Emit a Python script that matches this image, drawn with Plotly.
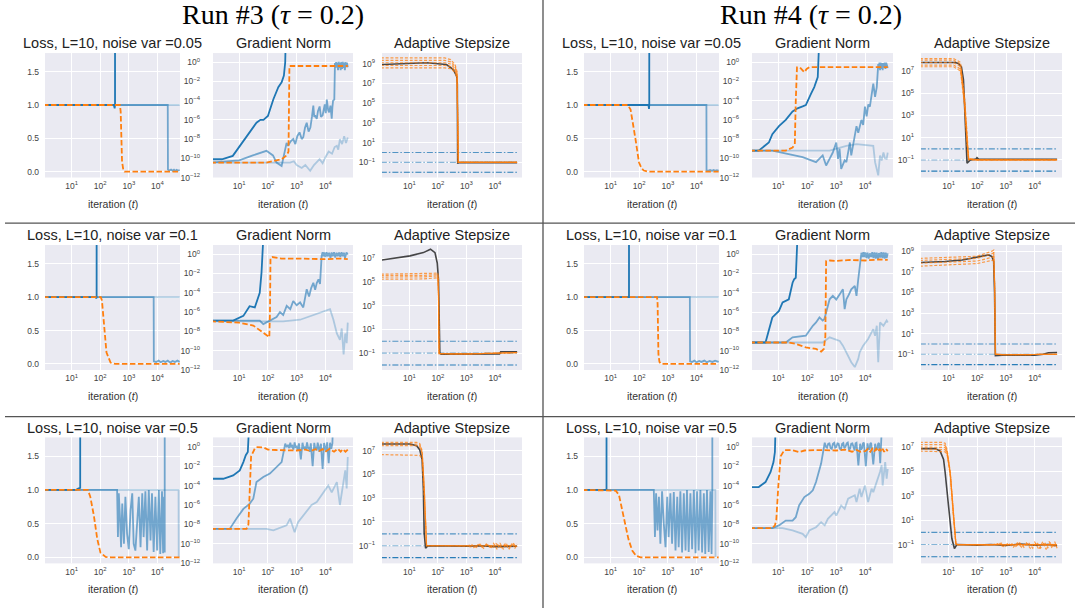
import plotly.graph_objects as go

W, H = 1075, 613
T_END = 60000

# ======================= DATA: (iteration t, value) =======================
# ---------- Run #3, noise var 0.05 ----------
r3a_loss_dark = [(1, 1.0), (300, 1.0), (320, 0.95), (330, 1.0), (340, 100)]
r3a_loss_mid = [(1, 1.0), (23000, 1.0), (23400, 0.03), (26000, 0.015), (30000, 0.03), (34000, 0.012),
                (38000, 0.028), (42000, 0.01), (47000, 0.025), (52000, 0.015), (60000, 0.02)]
r3a_loss_light = [(1, 1.0), (60000, 1.0)]
r3a_loss_orng = [(1, 1.0), (490, 1.0), (520, 0.9), (545, 0.5), (580, 0.15), (640, 0.03), (708, 0.0), (60000, 0.0)]

r3a_grad_dark = [(1, 8e-11), (2.5, 8e-11), (6, 1.8e-10), (10.5, 2e-9), (23, 5e-8), (40, 5e-7), (55, 1e-6), (70, 1e-6),
                 (100, 2.5e-6), (155, 1.4e-4), (230, 2.5e-3), (300, 8e-3), (360, 4e-2), (400, 1.0), (420, 1e3)]
r3a_grad_mid = [(1, 3.6e-11), (10, 6e-11), (30, 2e-10), (89, 6e-10), (150, 2e-10), (200, 3.6e-11), (300, 1.6e-11),
                (447, 4e-9), (500, 2e-9), (620, 6e-9), (760, 1e-8), (900, 3e-9), (1050, 2e-8), (1260, 5e-8),
                (1500, 1e-8), (1700, 1.6e-8), (1950, 1.5e-7), (2240, 5e-7), (2600, 6e-8), (3000, 1.6e-7),
                (3400, 2e-6), (3800, 3e-5), (4100, 2e-6), (4400, 3e-6), (5000, 1.3e-6), (5500, 8e-6),
                (6300, 2.5e-5), (7000, 2e-6), (8000, 3e-6), (8800, 1.5e-5), (9500, 4e-5), (10300, 5e-6),
                (11200, 1.3e-4), (12500, 1e-5), (13500, 6e-6), (15000, 3e-5), (16600, 1.3e-6), (17500, 2e-5),
                (18500, 1e-4), (20400, 1.3e-4), (21500, 0.8), (22500, 0.25), (23500, 1.0), (24500, 0.3),
                (26000, 0.9), (27500, 0.15), (29000, 1.1), (30500, 0.25), (32000, 0.9), (34000, 0.15),
                (36000, 1.0), (38000, 0.2), (40000, 1.1), (42500, 0.25), (45000, 0.9), (47500, 0.15),
                (50000, 1.0), (53000, 0.3), (56000, 0.9), (60000, 0.3)]
r3a_grad_light = [(1, 3.6e-11), (590, 3.6e-11), (800, 5e-11), (1000, 2e-11), (1500, 1e-11), (2000, 2e-11),
                  (2950, 5e-12), (4000, 2e-11), (6300, 8e-11), (8000, 3e-11), (10000, 1.3e-10), (13000, 5e-10),
                  (17000, 3e-10), (21000, 1.5e-9), (25000, 2e-9), (28000, 8e-10), (32000, 1e-8), (38000, 3e-9),
                  (45000, 2e-8), (52000, 4e-9), (60000, 1.5e-8)]
r3a_grad_orng = [(1, 3.6e-11), (89, 3.6e-11), (300, 8e-11), (447, 2e-10), (520, 5e-10), (540, 0.4), (560, 0.4),
                 (5000, 0.4), (20000, 0.38), (60000, 0.4)]

r3a_step_black = [(1, 8e8), (40, 1.2e9), (200, 8e8), (347, 2.5e8), (457, 5e7), (480, 1e7), (495, 0.075),
                  (520, 0.095), (60000, 0.095)]
r3a_step_o1 = [(1, 3.7e9), (174, 3.7e9), (280, 2.5e9), (400, 8e8), (470, 1.5e8), (500, 1e3), (520, 0.1), (60000, 0.1)]
r3a_step_o2 = [(1, 2.1e9), (174, 2.1e9), (280, 1.5e9), (400, 5e8), (470, 1e8), (500, 1e3), (520, 0.1), (60000, 0.1)]
r3a_step_o3 = [(1, 1.2e9), (174, 1.2e9), (280, 9e8), (400, 3e8), (470, 7e7), (500, 1e3), (520, 0.1), (60000, 0.1)]
r3a_step_o4 = [(1, 6.3e8), (174, 6.3e8), (280, 5e8), (400, 2e8), (470, 5e7), (500, 1e3), (520, 0.1), (60000, 0.1)]
r3a_step_o5 = [(1, 3.7e8), (174, 3.7e8), (280, 3e8), (400, 1.3e8), (470, 3e7), (500, 1e3), (520, 0.1), (60000, 0.1)]

# ---------- Run #3, noise var 0.1 ----------
r3b_loss_dark = [(1, 1.0), (70, 1.0), (73, 0.98), (75, 1.0), (77, 100)]
r3b_loss_mid = [(1, 1.0), (7400, 1.0), (7500, 0.04), (9000, 0.03), (11000, 0.05), (13000, 0.025), (16000, 0.045),
                (19000, 0.03), (23000, 0.05), (28000, 0.02), (34000, 0.045), (41000, 0.03), (50000, 0.05),
                (60000, 0.03)]
r3b_loss_light = [(1, 1.0), (60000, 1.0)]
r3b_loss_orng = [(1, 1.0), (105, 1.0), (115, 0.95), (135, 0.6), (166, 0.17), (230, 0.02), (340, 0.0), (60000, 0.0)]

r3b_grad_dark = [(1, 1.3e-7), (6.2, 1.3e-7), (14, 4e-7), (23, 4e-6), (35, 3e-6), (52, 1e-4), (60, 1.3e-2), (70, 100)]
r3b_grad_mid = [(1, 1.3e-7), (52, 1.3e-7), (69, 5.6e-8), (117, 1.3e-7), (200, 3e-7), (263, 1e-6), (340, 5e-7),
                (450, 4.4e-6), (600, 2e-6), (760, 1.4e-5), (1000, 5e-6), (1320, 1e-5), (1700, 3e-6), (2000, 4e-5),
                (2240, 2.3e-4), (2700, 4e-5), (3200, 3e-4), (3800, 1.1e-3), (4400, 2e-4), (5000, 1e-3),
                (5750, 2.5e-3), (6500, 8e-4), (7400, 0.7), (8000, 1.6), (8500, 0.6), (9200, 1.5), (10000, 0.5),
                (11000, 1.6), (12000, 0.6), (13500, 1.4), (15000, 0.4), (16500, 1.5), (18000, 0.6), (20000, 1.6),
                (22000, 0.45), (24500, 1.4), (27000, 0.6), (30000, 1.5), (33000, 0.5), (36500, 1.6), (40000, 0.6),
                (44000, 1.4), (48000, 0.4), (54000, 1.5), (60000, 0.9)]
r3b_grad_light = [(1, 1.1e-7), (340, 1.1e-7), (1320, 1.6e-7), (6450, 8e-7), (14500, 2e-6), (19000, 1.6e-7),
                  (25000, 6e-9), (32000, 1.3e-9), (37000, 2e-8), (43000, 4e-11), (49000, 6e-9), (55000, 6e-10),
                  (60000, 8e-8)]
r3b_grad_orng = [(1, 1.1e-7), (10, 8e-8), (31, 4e-8), (69, 8e-9), (112, 2.5e-9), (118, 1e-6), (123, 0.4), (140, 0.5),
                 (300, 0.35), (1000, 0.35), (3000, 0.33), (10000, 0.3), (30000, 0.35), (60000, 0.3)]

r3b_step_black = [(1, 7e6), (10.5, 1.6e7), (31, 3e7), (55, 5.8e7), (79, 3e7), (95, 4e6), (105, 1.5e5), (117, 0.1),
                  (130, 0.083), (14500, 0.085), (16000, 0.13), (60000, 0.13)]
r3b_step_o1 = [(1, 4.5e5), (30, 4.7e5), (89, 5.5e5), (100, 6e5), (105, 1e4), (110, 0.09), (1000, 0.085), (10000, 0.1), (60000, 0.11)]
r3b_step_o2 = [(1, 3.5e5), (30, 3.6e5), (89, 4.2e5), (100, 4.5e5), (105, 1e4), (110, 0.09), (1000, 0.085), (10000, 0.1), (60000, 0.11)]
r3b_step_o3 = [(1, 2.6e5), (30, 2.7e5), (89, 3.2e5), (100, 3.5e5), (105, 1e4), (110, 0.09), (1000, 0.085), (10000, 0.1), (60000, 0.11)]
r3b_step_o4 = [(1, 1.7e5), (30, 1.8e5), (89, 2.2e5), (100, 2.5e5), (105, 1e4), (110, 0.09), (1000, 0.085), (10000, 0.1), (60000, 0.11)]

# ---------- Run #3, noise var 0.5 ----------
r3c_loss_dark = [(1, 1.0), (14, 1.0), (17, 1.02), (20, 1.03), (21, 100)]
r3c_loss_mid = [(1, 1.0), (390, 1.0), (417, 0.3), (447, 0.95), (490, 0.6), (537, 0.15), (590, 0.8), (676, 0.2),
                (760, 0.9), (870, 0.35), (1000, 0.12), (1150, 0.7), (1320, 0.95), (1480, 0.2), (1700, 0.1),
                (1950, 0.6), (2240, 0.9), (2570, 0.15), (2950, 0.95), (3300, 0.3), (3800, 0.98), (4370, 0.1),
                (5000, 1.0), (5750, 0.25), (6460, 0.95), (7400, 0.08), (8500, 0.9), (9800, 0.1), (11200, 1.0),
                (12600, 0.05), (14500, 0.98), (15800, 0.06), (17000, 0.9), (18000, 0.07), (18200, 100)]
r3c_loss_light = [(1, 1.0), (55000, 1.0), (55500, 0.0)]
r3c_loss_orng = [(1, 1.0), (37, 1.0), (45, 0.9), (60, 0.62), (79, 0.27), (102, 0.07), (155, 0.005), (230, 0.0), (60000, 0.0)]

r3c_grad_dark = [(1, 5e-4), (2.8, 5e-4), (6.2, 1.1e-3), (10.5, 3.6e-3), (14, 2.6e-2), (17, 0.13), (20, 0.28), (22, 100)]
r3c_grad_mid = [(1, 3.5e-9), (4.7, 3.5e-9), (8.1, 4e-8), (14, 4e-7), (23, 1.3e-6), (31, 4.4e-6), (40, 2.3e-4),
                (69, 7.6e-4), (117, 1.7e-3), (200, 8e-3), (300, 2.6e-2), (400, 2.0), (450, 0.9), (500, 1.5),
                (550, 0.7), (600, 2.5), (650, 1.0), (700, 1.2), (770, 0.5), (850, 2.8), (920, 0.8), (1000, 1.0),
                (1100, 0.4), (1200, 2.2), (1400, 0.05), (1600, 2.5), (1750, 0.6), (1900, 1.0), (2100, 0.5),
                (2300, 2.8), (2500, 0.7), (2700, 0.8), (2900, 0.3), (3100, 2.2), (3600, 0.01), (4100, 2.5),
                (4400, 0.6), (4700, 1.0), (5000, 0.4), (5400, 2.6), (6200, 0.3), (7000, 2.0), (8000, 0.005),
                (9000, 2.4), (10000, 0.9), (10700, 0.3), (11500, 2.8), (13000, 0.02), (14500, 2.5), (16000, 0.6),
                (17500, 2.2), (18200, 100)]
r3c_grad_light = [(1, 3.5e-9), (89, 3.5e-9), (155, 2.5e-9), (447, 8e-9), (590, 4e-8), (850, 1.6e-9), (1120, 1.7e-8),
                  (1700, 8e-8), (3300, 1e-6), (5000, 2e-6), (7400, 1e-5), (12600, 1e-4), (16600, 2e-5),
                  (25000, 2.3e-4), (32000, 1e-6), (43000, 2.3e-4), (49000, 3.6e-3), (55000, 5e-5), (60000, 8.7e-2)]
r3c_grad_orng = [(1, 3.5e-9), (18, 3.5e-9), (21, 1e-8), (23, 3e-6), (26, 0.1), (35, 0.63), (40, 0.9), (69, 0.85),
                 (100, 0.5), (200, 0.45), (1000, 0.4), (2000, 0.5), (3000, 0.35), (4500, 0.55), (6000, 0.35),
                 (8000, 0.55), (10000, 0.3), (14000, 0.6), (20000, 0.3), (27000, 0.6), (34000, 0.3), (40000, 0.55),
                 (50000, 0.3), (60000, 0.5)]

r3c_step_black = [(1, 3.6e7), (10.5, 3.6e7), (18, 2.6e7), (23, 1.2e7), (28, 1.8e6), (31, 5.5e3), (33, 1.3),
                  (37, 0.063), (45, 0.1), (200, 0.095), (1000, 0.09), (3000, 0.1), (10000, 0.085), (60000, 0.09)]
r3c_step_o1 = [(1, 5e7), (18, 5e7), (23, 4e7), (28, 1e7), (33, 1e4), (37, 10), (40, 0.1), (200, 0.1), (1000, 0.09),
               (1500, 0.13), (2200, 0.07), (3000, 0.14), (4000, 0.06), (5500, 0.15), (7000, 0.06), (9000, 0.16),
               (12000, 0.05), (15000, 0.17), (20000, 0.05), (25000, 0.16), (32000, 0.05), (40000, 0.17),
               (50000, 0.06), (60000, 0.14)]
r3c_step_o2 = [(1, 3.6e7), (18, 3.6e7), (23, 3e7), (28, 8e6), (33, 1e4), (37, 10), (40, 0.1), (1000, 0.1),
               (1800, 0.07), (2600, 0.13), (3500, 0.08), (5000, 0.14), (8000, 0.06), (11000, 0.15), (17000, 0.07),
               (23000, 0.15), (30000, 0.06), (45000, 0.15), (60000, 0.08)]
r3c_step_o3 = [(1, 2.6e7), (18, 2.6e7), (23, 2e7), (28, 6e6), (33, 1e4), (37, 10), (40, 0.1), (60000, 0.1)]
r3c_step_o4 = [(1, 4.6e6), (18, 4.6e6), (23, 4e6), (28, 2e6), (33, 5e3), (37, 10), (40, 0.1), (60000, 0.1)]

# ---------- Run #4, noise var 0.05 ----------
r4a_loss_dark = [(1, 1.0), (210, 1.0), (220, 0.94), (225, 1.0), (230, 100)]
r4a_loss_mid = [(1, 1.0), (22400, 1.0), (22600, 0.02), (26000, 0.012), (30000, 0.025), (35000, 0.01),
                (40000, 0.022), (46000, 0.01), (52000, 0.02), (60000, 0.015)]
r4a_loss_light = [(1, 1.0), (60000, 1.0)]
r4a_loss_orng = [(1, 1.0), (40, 1.0), (50, 0.93), (60, 0.75), (74, 0.49), (98, 0.14), (120, 0.05), (145, 0.015),
                 (200, 0.0), (60000, 0.0)]

r4a_grad_dark = [(1, 6.3e-10), (2.1, 6.3e-10), (4.7, 4.4e-9), (6.2, 3.2e-8), (10.5, 2.2e-7), (18, 1e-6), (31, 7.4e-6),
                 (46, 1.6e-5), (69, 2.5e-5), (89, 3.5e-5), (135, 5.5e-4), (174, 2.6e-3), (230, 2.8e-2), (263, 1e3)]
r4a_grad_mid = [(1, 6.3e-10), (6.2, 6.3e-10), (69, 1.3e-10), (200, 4e-11), (340, 2e-10), (447, 1.8e-11),
                (600, 1e-10), (760, 4e-10), (1000, 4.4e-9), (1150, 8.7e-11), (1300, 1e-9), (1480, 8e-12),
                (1950, 6e-11), (2240, 4e-11), (2600, 5e-10), (2950, 4.4e-9), (3300, 2e-10), (3800, 2e-9),
                (4370, 2e-8), (5000, 2.2e-7), (5750, 4.6e-8), (6500, 3e-7), (7400, 1e-6), (8500, 3e-7),
                (9800, 2.4e-5), (11200, 2.3e-6), (12800, 4e-5), (14500, 2.4e-5), (16600, 2.5e-4), (19000, 5.8e-3),
                (21900, 2.5e-4), (25100, 2.6e-3), (28200, 0.63), (29500, 0.2), (31000, 0.9), (32500, 0.15),
                (34000, 0.9), (36000, 0.2), (38000, 0.8), (40000, 0.15), (42000, 0.8), (44500, 0.3), (47000, 0.9),
                (50000, 0.2), (53000, 0.9), (56500, 0.3), (60000, 0.25)]
r4a_grad_light = [(1, 6.3e-10), (590, 6.3e-10), (2240, 2e-9), (5000, 3e-9), (19000, 2e-9), (21900, 4e-11),
                  (28200, 1.7e-12), (32400, 1.9e-10), (37000, 6e-11), (42700, 4e-10), (48000, 1e-10),
                  (55000, 8.7e-11), (60000, 4e-10)]
r4a_grad_orng = [(1, 6.3e-10), (18, 6.3e-10), (31, 1.3e-9), (37, 3e-9), (40, 1e-4), (44, 0.29), (55, 0.3), (70, 0.12),
                 (79, 0.09), (95, 0.2), (117, 0.3), (1000, 0.3), (10000, 0.3), (60000, 0.3)]

r4a_step_black = [(1, 5.8e7), (17, 5.8e7), (22, 4.8e7), (28, 2.4e7), (33, 1.6e6), (38, 63), (44, 0.05), (57, 0.1),
                  (90, 0.12), (98, 0.16), (110, 0.12), (60000, 0.115)]
r4a_step_o1 = [(1, 1.3e8), (15, 1.3e8), (26, 6e7), (36, 5e4), (45, 10), (50, 0.14), (100, 0.1), (60000, 0.1)]
r4a_step_o2 = [(1, 9.3e7), (15, 9.3e7), (26, 4e7), (36, 3e4), (45, 5), (50, 0.13), (100, 0.1), (60000, 0.1)]
r4a_step_o3 = [(1, 5.8e7), (15, 5.8e7), (26, 2.5e7), (36, 2e4), (45, 3), (50, 0.12), (100, 0.1), (60000, 0.1)]
r4a_step_o4 = [(1, 3.4e7), (15, 3.4e7), (26, 1.5e7), (36, 1e4), (45, 2), (50, 0.11), (100, 0.1), (60000, 0.1)]
r4a_step_o5 = [(1, 2.4e7), (15, 2.4e7), (26, 1e7), (36, 8e3), (45, 1), (50, 0.1), (100, 0.1), (60000, 0.1)]

# ---------- Run #4, noise var 0.1 ----------
r4b_loss_dark = [(1, 1.0), (44, 1.0), (45, 100)]
r4b_loss_mid = [(1, 1.0), (5900, 1.0), (6000, 0.04), (7000, 0.03), (8500, 0.05), (10000, 0.025), (12500, 0.045),
                (15000, 0.03), (19000, 0.05), (23000, 0.025), (29000, 0.045), (36000, 0.03), (45000, 0.05),
                (60000, 0.03)]
r4b_loss_light = [(1, 1.0), (60000, 1.0)]
r4b_loss_orng = [(1, 1.0), (420, 1.0), (440, 0.9), (450, 0.5), (470, 0.15), (510, 0.03), (580, 0.0), (60000, 0.0)]

r4b_grad_dark = [(1, 7e-10), (3.6, 7e-10), (6.2, 2.8e-7), (10.5, 1.3e-6), (14, 1e-5), (18, 1.4e-5), (23, 2.1e-5),
                 (31, 1.1e-3), (35, 2.5e-3), (40, 3.6e-3), (46, 100)]
r4b_grad_mid = [(1, 7e-10), (18, 7e-10), (31, 2.4e-9), (89, 3.5e-9), (155, 3.8e-8), (200, 8.3e-8), (263, 2.8e-7),
                (340, 1.3e-7), (390, 1.9e-7), (468, 2e-6), (590, 2.1e-5), (760, 4.7e-5), (1000, 2e-5), (1320, 7e-5),
                (1700, 2.3e-4), (1950, 2e-6), (2240, 2.1e-5), (2700, 6e-5), (3300, 2.3e-4), (4370, 5e-4),
                (5000, 4.7e-5), (5750, 2.5e-3), (6450, 2.6e-2), (7400, 1.4), (8000, 0.5), (8700, 1.6), (9300, 0.5),
                (10000, 1.5), (11000, 0.4), (12000, 1.4), (13200, 0.35), (14500, 1.2), (16000, 0.5), (17500, 1.6),
                (19200, 0.4), (21000, 1.5), (23000, 0.35), (25000, 1.4), (27500, 0.3), (30000, 1.3), (33000, 0.45),
                (36000, 1.6), (39500, 0.4), (43000, 1.5), (47000, 0.35), (51000, 1.4), (55000, 0.4), (60000, 1.2)]
r4b_grad_light = [(1, 7e-10), (340, 7e-10), (590, 2.4e-9), (1320, 1e-9), (1700, 3.3e-10), (2570, 3e-11),
                  (3300, 6.3e-12), (4370, 2e-12), (5750, 1.4e-11), (6450, 6.8e-11), (8500, 3.3e-10), (12600, 1.6e-9),
                  (19000, 1.7e-8), (21900, 3.5e-9), (25100, 3.8e-8), (28200, 6.3e-12), (32400, 8.3e-8),
                  (42700, 3.8e-8), (55000, 1.3e-7), (60000, 8.3e-8)]
r4b_grad_orng = [(1, 7e-10), (23, 7e-10), (40, 5e-10), (89, 2.2e-10), (200, 1.5e-10), (300, 8e-11), (372, 1.5e-10),
                 (420, 3e-9), (447, 0.19), (600, 0.22), (1000, 0.2), (3000, 0.25), (10000, 0.22), (30000, 0.28),
                 (60000, 0.25)]

r4b_step_black = [(1, 8e7), (7.6, 1e8), (30, 1.4e8), (98, 2.6e8), (250, 4.3e8), (324, 3e8), (372, 1e8), (400, 1e5),
                  (427, 0.072), (1000, 0.085), (10000, 0.08), (20000, 0.1), (30000, 0.14), (60000, 0.15)]
r4b_step_o1 = [(1, 2e8), (98, 3.2e8), (324, 1e9), (372, 1.26e9), (400, 1e6), (427, 0.1), (1000, 0.09), (60000, 0.1)]
r4b_step_o2 = [(1, 1.26e8), (98, 2e8), (324, 5.6e8), (372, 7e8), (400, 1e6), (427, 0.1), (1000, 0.09), (60000, 0.1)]
r4b_step_o3 = [(1, 7e7), (98, 1.1e8), (324, 2.5e8), (372, 3e8), (400, 1e6), (427, 0.1), (1000, 0.09), (60000, 0.1)]
r4b_step_o4 = [(1, 3.5e7), (98, 6.3e7), (324, 1.26e8), (372, 1.5e8), (400, 1e6), (427, 0.1), (1000, 0.09), (60000, 0.1)]

# ---------- Run #4, noise var 0.5 ----------
r4c_loss_dark = [(1, 1.0), (7.2, 1.0), (7.4, 100)]
r4c_loss_mid = [(1, 1.0), (324, 1.0), (355, 0.3), (390, 0.95), (437, 0.4), (490, 0.9), (550, 0.2), (630, 0.98),
                (724, 0.5), (832, 0.15), (955, 0.9), (1070, 0.3), (1230, 0.95), (1410, 0.2), (1620, 0.97),
                (1860, 0.1), (2140, 0.9), (2400, 0.15), (2750, 0.98), (3160, 0.07), (3630, 0.95), (4170, 0.1),
                (4680, 1.0), (5370, 0.08), (6170, 0.95), (7080, 0.12), (8130, 1.0), (9330, 0.06), (10500, 0.98),
                (12000, 0.1), (13800, 1.0), (15800, 0.07), (18200, 0.95), (20400, 0.05), (23400, 1.0),
                (26900, 0.08), (30900, 0.98), (33900, 0.05), (36000, 0.9), (37000, 100)]
r4c_loss_light = [(1, 1.0), (46000, 1.0), (46500, 0.0)]
r4c_loss_orng = [(1, 1.0), (13, 1.0), (15, 0.99), (19.5, 0.93), (26, 0.7), (32, 0.5), (42, 0.27), (57, 0.1),
                 (79, 0.02), (112, 0.0), (60000, 0.0)]

r4c_grad_dark = [(1, 7e-5), (2.1, 7e-5), (3.6, 2.3e-4), (5.4, 2.5e-3), (6.8, 2.6e-2), (7.6, 0.28), (8, 100)]
r4c_grad_mid = [(1, 4.2e-9), (6.2, 4.2e-9), (10.5, 8e-9), (18, 2.5e-8), (31, 2.5e-8), (40, 5.6e-8), (52, 9e-7),
                (79, 6.5e-6), (117, 1.4e-5), (155, 3.2e-5), (200, 2.3e-4), (300, 1.8e-2), (400, 2.5), (440, 1.0),
                (480, 0.8), (530, 2.0), (580, 2.2), (640, 0.7), (700, 0.6), (770, 2.0), (850, 2.5), (920, 0.8),
                (1000, 0.9), (1100, 2.2), (1200, 2.0), (1320, 0.6), (1450, 0.5), (1600, 2.0), (1750, 2.4),
                (1900, 0.7), (2100, 1.0), (2300, 2.2), (2500, 2.6), (2750, 0.5), (3000, 0.6), (3300, 2.0),
                (3600, 2.2), (3950, 0.6), (4300, 0.4), (4650, 2.2), (5000, 2.5), (5800, 0.012), (6700, 2.0),
                (7200, 0.5), (7800, 0.7), (8400, 2.2), (9000, 2.6), (10500, 0.01), (12000, 2.2), (13000, 0.6),
                (14000, 0.5), (15000, 2.0), (16000, 2.5), (19000, 0.015), (22000, 2.0), (24000, 0.5), (26000, 0.6),
                (28000, 2.0), (30000, 2.4), (33000, 0.02), (36000, 1.5), (37500, 100)]
r4c_grad_light = [(1, 4.2e-9), (14, 4.2e-9), (31, 2.4e-9), (69, 1.1e-9), (89, 5e-10), (117, 2.4e-9), (200, 5.2e-9),
                  (300, 1.7e-8), (400, 8e-9), (513, 3.8e-8), (870, 1.9e-7), (1000, 8.3e-8), (1480, 9e-7),
                  (1950, 4e-7), (2570, 4.4e-6), (4370, 1e-5), (5000, 2e-6), (6450, 4.7e-5), (7400, 6.5e-6),
                  (9800, 1e-4), (12600, 2e-6), (16600, 4.7e-5), (19000, 2.1e-5), (25100, 2.3e-4), (32400, 2.5e-3),
                  (37000, 1.2e-2), (40000, 1e-4), (49000, 2.6e-2), (55000, 5e-4), (60000, 5e-3)]
r4c_grad_orng = [(1, 4.2e-9), (6.2, 4.2e-9), (7.6, 8e-9), (8.5, 3e-8), (10, 1e-4), (12, 0.1), (16, 0.43), (30, 0.45),
                 (52, 0.28), (80, 0.4), (200, 0.45), (1000, 0.4), (2000, 0.5), (3500, 0.3), (5000, 0.45),
                 (7000, 0.3), (10000, 0.35), (12500, 0.6), (15000, 0.3), (17500, 0.6), (20000, 0.3), (24000, 0.6),
                 (28000, 0.3), (32000, 0.6), (36000, 0.3), (40000, 0.6), (45000, 0.3), (52000, 0.6), (60000, 0.35)]

r4c_step_black = [(1, 7.3e6), (3.4, 7.3e6), (5.1, 4.5e6), (6.7, 9.4e5), (7.6, 8e4), (10, 155), (13, 0.31),
                  (16, 0.048), (19.5, 0.1), (100, 0.09), (300, 0.1), (1000, 0.085), (3000, 0.11), (10000, 0.09),
                  (30000, 0.1), (60000, 0.08)]
r4c_step_o1 = [(1, 2.4e7), (5.9, 2.4e7), (7.6, 2e7), (9, 5e6), (11.5, 8e4), (15, 24), (18, 0.12), (20, 0.1),
               (100, 0.1), (300, 0.09), (500, 0.12), (800, 0.07), (1200, 0.13), (1800, 0.06), (2500, 0.14),
               (3500, 0.06), (5000, 0.15), (7000, 0.05), (10000, 0.16), (14000, 0.04), (19000, 0.17),
               (25000, 0.04), (32000, 0.18), (40000, 0.05), (50000, 0.17), (60000, 0.05)]
r4c_step_o2 = [(1, 1.55e7), (5.9, 1.55e7), (7.6, 1.3e7), (9, 4e6), (11.5, 7e4), (15, 20), (18, 0.12), (20, 0.1),
               (400, 0.1), (700, 0.13), (1000, 0.07), (1500, 0.13), (2200, 0.07), (3000, 0.14), (4200, 0.06),
               (6000, 0.15), (8500, 0.05), (12000, 0.15), (16000, 0.05), (22000, 0.16), (28000, 0.05),
               (36000, 0.15), (45000, 0.06), (60000, 0.14)]
r4c_step_o3 = [(1, 1e7), (5.9, 1e7), (7.6, 9e6), (9, 3e6), (11.5, 6e4), (15, 18), (18, 0.11), (20, 0.1), (60000, 0.1)]
r4c_step_o4 = [(1, 6.9e6), (5.9, 6.9e6), (7.6, 6e6), (9, 2.5e6), (11.5, 5e4), (15, 15), (18, 0.11), (20, 0.1), (60000, 0.1)]
r4c_step_o5 = [(1, 4.5e6), (5.9, 4.5e6), (7.6, 4e6), (9, 2e6), (11.5, 4e4), (15, 12), (18, 0.1), (20, 0.1), (60000, 0.1)]

# reference step sizes (dash-dot)
ref_levels = [1.0, 0.1, 0.01]

# tick labels
x_tickvals = [10, 100, 1000, 10000]
x_tickexp = [1, 2, 3, 4]
loss_tickvals = [0.0, 0.5, 1.0, 1.5]
loss_ticktext = ["0.0", "0.5", "1.0", "1.5"]
grad_tickexp = [0, -2, -4, -6, -8, -10, -12]
step_tickexp_9 = [9, 7, 5, 3, 1, -1]
step_tickexp_7 = [7, 5, 3, 1, -1]

noise_labels = ["0.05", "0.1", "0.5"]
run_titles = ["Run #3 (<i>τ</i> = 0.2)", "Run #4 (<i>τ</i> = 0.2)"]

# ======================= STYLE / LAYOUT =======================
BG = "#EAEAF2"
C_DARK = "rgba(31,119,180,1)"
C_MID = "rgba(31,119,180,0.6)"
C_LIGHT = "rgba(31,119,180,0.3)"
C_ORNG = "rgba(255,127,14,1)"
C_ORNG_S = "rgba(255,127,14,0.75)"
C_BLACK = "rgba(40,40,40,0.85)"
C_REF = ["rgba(31,119,180,0.75)", "rgba(31,119,180,0.55)", "rgba(31,119,180,0.95)"]
TICKFONT = dict(family="Liberation Sans, Arial", size=8.5, color="#444")

ROWS = [(53.5, 179), (247, 373), (441, 568)]
TITLE_Y = [43.3, 237.3, 431.5]
XLAB_Y = [205.5, 399.3, 594.3]
COLS = {
    0: [(45, 180), (213, 353), (382, 522)],
    1: [(584, 719), (752, 893), (921, 1062)],
}
X_RANGES = [[0.07, 4.79], [0.09, 4.96], [0.04, 4.95]]


def sup(e):
    return "10<sup>" + str(e).replace("-", "−") + "</sup>"


fig = go.Figure()
layout = {}
counter = [0]


def new_axes(xpx, ypx, xr, yr, ytype, ytickvals, yticktext, ystandoff):
    counter[0] += 1
    n = counter[0]
    s = "" if n == 1 else str(n)
    common = dict(showgrid=True, gridcolor="white", gridwidth=1, zeroline=False, showline=False,
                  ticks="", tickfont=TICKFONT, fixedrange=True)
    layout["xaxis" + s] = dict(domain=[xpx[0] / W, xpx[1] / W], range=xr, type="log", anchor="y" + s,
                               tickvals=x_tickvals, ticktext=[sup(e) for e in x_tickexp],
                               ticklabelstandoff=2, **common)
    layout["yaxis" + s] = dict(domain=[1 - ypx[1] / H, 1 - ypx[0] / H], range=yr, type=ytype, anchor="x" + s,
                               tickvals=ytickvals, ticktext=yticktext, ticklabelstandoff=ystandoff, **common)
    return "x" + s, "y" + s


def add_line(xa, ya, pts, color, width=1.8, dash="solid"):
    fig.add_trace(go.Scatter(x=[p[0] for p in pts], y=[p[1] for p in pts], mode="lines",
                             xaxis=xa, yaxis=ya, line=dict(color=color, width=width, dash=dash),
                             showlegend=False, hoverinfo="skip"))


ORNG_DASH = "5.5px,2.5px"
STEP_DASH = "3px,1.8px"
REF_DASH = "6px,2px,1.5px,2px"

panels = [
    (0, 0, (r3a_loss_dark, r3a_loss_mid, r3a_loss_light, r3a_loss_orng),
     (r3a_grad_dark, r3a_grad_mid, r3a_grad_light, r3a_grad_orng),
     (r3a_step_black, [r3a_step_o1, r3a_step_o2, r3a_step_o3, r3a_step_o4, r3a_step_o5]), [-2.53, 10.06], step_tickexp_9),
    (0, 1, (r3b_loss_dark, r3b_loss_mid, r3b_loss_light, r3b_loss_orng),
     (r3b_grad_dark, r3b_grad_mid, r3b_grad_light, r3b_grad_orng),
     (r3b_step_black, [r3b_step_o1, r3b_step_o2, r3b_step_o3, r3b_step_o4]), [-2.42, 8.12], step_tickexp_7),
    (0, 2, (r3c_loss_dark, r3c_loss_mid, r3c_loss_light, r3c_loss_orng),
     (r3c_grad_dark, r3c_grad_mid, r3c_grad_light, r3c_grad_orng),
     (r3c_step_black, [r3c_step_o1, r3c_step_o2, r3c_step_o3, r3c_step_o4]), [-2.48, 8.11], step_tickexp_7),
    (1, 0, (r4a_loss_dark, r4a_loss_mid, r4a_loss_light, r4a_loss_orng),
     (r4a_grad_dark, r4a_grad_mid, r4a_grad_light, r4a_grad_orng),
     (r4a_step_black, [r4a_step_o1, r4a_step_o2, r4a_step_o3, r4a_step_o4, r4a_step_o5]), [-2.58, 8.61], step_tickexp_7),
    (1, 1, (r4b_loss_dark, r4b_loss_mid, r4b_loss_light, r4b_loss_orng),
     (r4b_grad_dark, r4b_grad_mid, r4b_grad_light, r4b_grad_orng),
     (r4b_step_black, [r4b_step_o1, r4b_step_o2, r4b_step_o3, r4b_step_o4]), [-2.52, 9.6], step_tickexp_9),
    (1, 2, (r4c_loss_dark, r4c_loss_mid, r4c_loss_light, r4c_loss_orng),
     (r4c_grad_dark, r4c_grad_mid, r4c_grad_light, r4c_grad_orng),
     (r4c_step_black, [r4c_step_o1, r4c_step_o2, r4c_step_o3, r4c_step_o4, r4c_step_o5]), [-2.54, 7.78], step_tickexp_7),
]

annotations = []
for run, row, loss, grad, step, step_yr, step_exps in panels:
    cols = COLS[run]
    ypx = ROWS[row]
    # ---- loss ----
    xa, ya = new_axes(cols[0], ypx, X_RANGES[0], [-0.09, 1.78], "linear", loss_tickvals, loss_ticktext, 5)
    add_line(xa, ya, loss[0], C_DARK)
    add_line(xa, ya, loss[1], C_MID)
    add_line(xa, ya, loss[2], C_LIGHT)
    add_line(xa, ya, loss[3], C_ORNG, 1.8, ORNG_DASH)
    # ---- gradient norm ----
    xa, ya = new_axes(cols[1], ypx, X_RANGES[1], [-12, 0.95], "log",
                      [10.0 ** e for e in grad_tickexp], [sup(e) for e in grad_tickexp], 12)
    add_line(xa, ya, grad[0], C_DARK)
    add_line(xa, ya, grad[1], C_MID)
    add_line(xa, ya, grad[2], C_LIGHT)
    add_line(xa, ya, grad[3], C_ORNG, 1.8, ORNG_DASH)
    # ---- adaptive stepsize ----
    xa, ya = new_axes(cols[2], ypx, X_RANGES[2], step_yr, "log",
                      [10.0 ** e for e in step_exps], [sup(e) for e in step_exps], 6)
    for lvl, col in zip(ref_levels, C_REF):
        add_line(xa, ya, [(1, lvl), (T_END, lvl)], col, 1.1, REF_DASH)
    add_line(xa, ya, step[0], C_BLACK, 1.6)
    for o in step[1]:
        add_line(xa, ya, o, C_ORNG_S, 1.2, STEP_DASH)

    titles = ["Loss, L=10, noise var =" + noise_labels[row], "Gradient Norm", "Adaptive Stepsize"]
    for c, t in zip(cols, titles):
        annotations.append(dict(x=(c[0] + c[1]) / 2 / W, y=1 - TITLE_Y[row] / H, xref="paper", yref="paper",
                                text=t, showarrow=False, xanchor="center", yanchor="middle",
                                font=dict(family="Liberation Sans, Arial", size=14.5, color="#222")))
        annotations.append(dict(x=(c[0] + c[1]) / 2 / W, y=1 - XLAB_Y[row] / H, xref="paper", yref="paper",
                                text="iteration (<i>t</i>)", showarrow=False, xanchor="center", yanchor="middle",
                                font=dict(family="Liberation Sans, Arial", size=10.5, color="#333")))

for cx, txt in zip([273, 811], run_titles):
    annotations.append(dict(x=cx / W, y=1 - 15 / H, xref="paper", yref="paper", text=txt, showarrow=False,
                            xanchor="center", yanchor="middle",
                            font=dict(family="Liberation Serif, Times New Roman", size=28, color="black")))

shapes = [
    dict(type="line", xref="paper", yref="paper", x0=543 / W, x1=543 / W, y0=0, y1=1,
         line=dict(color="#444", width=1.2)),
    dict(type="line", xref="paper", yref="paper", x0=5 / W, x1=1075 / W, y0=1 - 225 / H, y1=1 - 225 / H,
         line=dict(color="#555", width=1.2)),
    dict(type="line", xref="paper", yref="paper", x0=5 / W, x1=1075 / W, y0=1 - 420 / H, y1=1 - 420 / H,
         line=dict(color="#555", width=1.2)),
]

fig.update_layout(layout)
fig.update_layout(width=W, height=H, margin=dict(l=0, r=0, t=0, b=0), paper_bgcolor="white",
                  plot_bgcolor=BG, annotations=annotations, shapes=shapes, showlegend=False)
fig.write_html("out.html", config={"displayModeBar": False})
